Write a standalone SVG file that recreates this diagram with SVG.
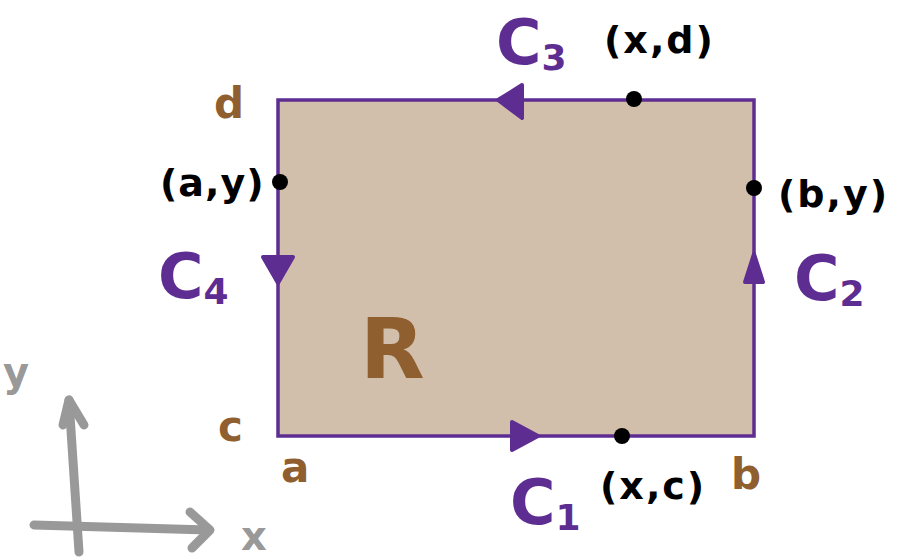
<svg xmlns="http://www.w3.org/2000/svg" width="897" height="558" viewBox="0 0 897 558">
<style>
.t{font-family:"DejaVu Sans","Liberation Sans",sans-serif;font-weight:bold}
.blk{fill:#000;font-size:38px;letter-spacing:2px}
.brn{fill:#8f5f30;font-size:42px}
.pur{fill:#5e2d91;font-size:62px}
.sub{fill:#5e2d91;font-size:36px}
.ax{stroke:#999;stroke-width:9;fill:none;stroke-linecap:round;stroke-linejoin:round}
.axt{fill:#999;font-size:40px}
</style>
<rect width="897" height="558" fill="#fff"/>
<g id="region">
<rect x="278" y="100" width="476" height="336" fill="#d2bfab" stroke="#5e2d91" stroke-width="3.5"/>
<text class="t" x="360" y="378" style="fill:#8f5f30;font-size:84px">R</text>
</g>
<g id="connectors">
<path d="M522,85 L498,100 L522,118 Z" fill="#5e2d91" stroke="#5e2d91" stroke-width="4" stroke-linejoin="round"/>
<path d="M512,422 L538,436 L512,450 Z" fill="#5e2d91" stroke="#5e2d91" stroke-width="4" stroke-linejoin="round"/>
<path d="M263,257 L278,283 L293,257 Z" fill="#5e2d91" stroke="#5e2d91" stroke-width="4" stroke-linejoin="round"/>
<path d="M745,282 L754,254 L763,282 Z" fill="#5e2d91" stroke="#5e2d91" stroke-width="4" stroke-linejoin="round"/>
</g>
<g id="points">
<circle cx="634" cy="99" r="8" fill="#000"/>
<circle cx="280" cy="182" r="8" fill="#000"/>
<circle cx="754" cy="188" r="8" fill="#000"/>
<circle cx="622" cy="436" r="8" fill="#000"/>
</g>
<g id="labels">
<text class="t pur" x="496" y="64">C<tspan class="sub" dy="6">3</tspan></text>
<text class="t blk" x="604" y="53">(x,d)</text>
<text class="t brn" x="214" y="118">d</text>
<text class="t blk" x="160" y="196" style="letter-spacing:1px">(a,y)</text>
<text class="t pur" x="158" y="298">C<tspan class="sub" dy="6">4</tspan></text>
<text class="t blk" x="778" y="207">(b,y)</text>
<text class="t pur" x="794" y="300">C<tspan class="sub" dy="6">2</tspan></text>
<text class="t brn" x="218" y="441">c</text>
<text class="t brn" x="281" y="482">a</text>
<text class="t brn" x="731" y="489">b</text>
<text class="t blk" x="600" y="499">(x,c)</text>
<text class="t pur" x="510" y="524">C<tspan class="sub" dy="6">1</tspan></text>
</g>
<g id="axes">
<path class="ax" d="M79,552 L69,400"/>
<path class="ax" d="M63,425 L69,400 L84,425"/>
<path class="ax" d="M34,525 L208,530"/>
<path class="ax" d="M190,512 L210,530 L192,548"/>
<text class="t axt" x="3" y="386">y</text>
<text class="t axt" x="241" y="550">x</text>
</g>
</svg>
